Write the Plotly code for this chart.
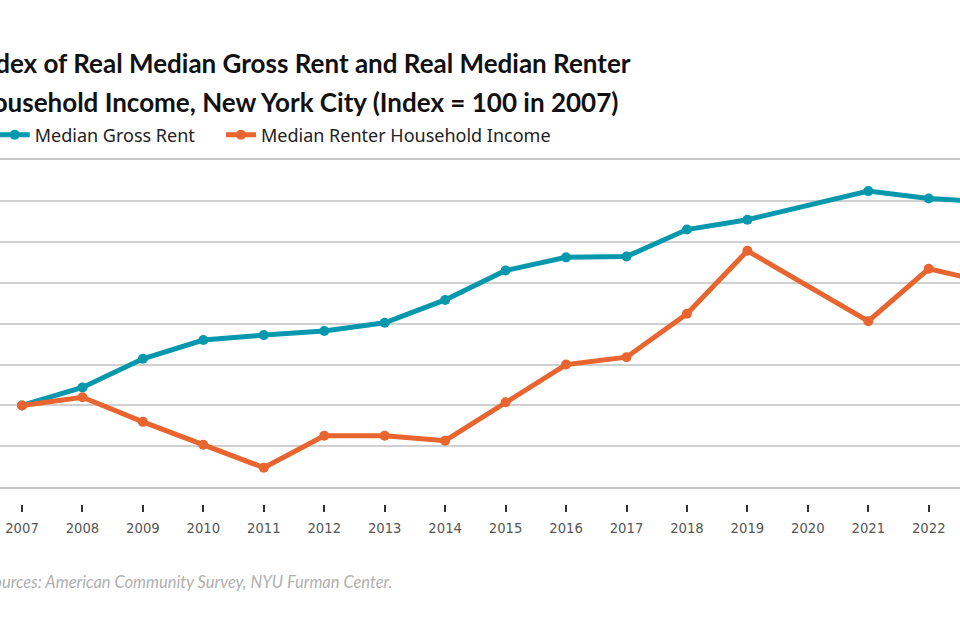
import plotly.graph_objects as go

# values (index, 2007 = 100); 2020 has no data point
years = list(range(2007, 2024))
rent = [100.0, 102.2, 105.7, 108.0, 108.6, 109.1, 110.1, 112.9, 116.5, 118.1,
        118.2, 121.5, 122.7, None, 126.2, 125.3, 124.9]
income = [100.0, 101.0, 98.0, 95.2, 92.4, 96.3, 96.3, 95.7, 100.4, 105.0,
          105.9, 111.2, 118.9, None, 110.3, 116.7, 115.0]
tick_years = list(range(2007, 2023))

TEAL = '#0898ad'
ORANGE = '#e8652f'

fig = go.Figure()
fig.add_trace(go.Scatter(x=years, y=rent, name='Median Gross Rent', mode='lines+markers',
                         connectgaps=True, line=dict(color=TEAL, width=5),
                         marker=dict(color=TEAL, size=10), legend='legend'))
fig.add_trace(go.Scatter(x=years, y=income, name='Median Renter Household Income',
                         mode='lines+markers', connectgaps=True,
                         line=dict(color=ORANGE, width=5),
                         marker=dict(color=ORANGE, size=10), legend='legend2'))

leg_font = dict(family='Noto Sans', size=18, color='#222222')

# plot area 160..540 px; y-domain bottom sits at 487 px, tick axis just below it
fig.update_layout(
    width=960, height=640,
    margin=dict(l=0, r=0, t=160, b=100, autoexpand=False),
    paper_bgcolor='white', plot_bgcolor='white',
    font=dict(family='Lato', color='#222222'),
    showlegend=True,
    legend=dict(orientation='h', x=-0.0055, y=1.0658, xanchor='left', yanchor='middle',
                font=leg_font, bgcolor='rgba(0,0,0,0)'),
    legend2=dict(orientation='h', x=0.2302, y=1.0658, xanchor='left', yanchor='middle',
                 font=leg_font, bgcolor='rgba(0,0,0,0)'),
    xaxis=dict(range=[2006.636, 2022.517], showgrid=False, zeroline=False,
               showline=True, mirror=True, linecolor='#c6c6c6', linewidth=2,
               showticklabels=False, ticks=''),
    xaxis2=dict(matches='x', overlaying='x', anchor='free', position=0.0947, side='bottom',
                tickmode='array', tickvals=tick_years, tickformat='d',
                ticks='outside', ticklen=7, tickwidth=1.5, tickcolor='#333333',
                ticklabelstandoff=5, ticklabeloverflow='allow',
                showline=False, showgrid=False, zeroline=False,
                tickfont=dict(family='DejaVu Sans', size=13.2, color='#555555')),
    yaxis=dict(domain=[0.1387, 1], range=[90, 130], dtick=5, showgrid=True,
               gridcolor='#d0d0d0', gridwidth=1.5, zeroline=False,
               showticklabels=False, ticks=''),
)
# empty trace so the lower tick axis gets drawn
fig.add_trace(go.Scatter(x=[], y=[], xaxis='x2', showlegend=False, hoverinfo='skip'))

fig.add_annotation(text='Index of Real Median Gross Rent and Real Median Renter',
                   xref='paper', yref='paper', x=-0.0298, y=1.2553, xanchor='left',
                   yanchor='middle', showarrow=False,
                   font=dict(family='Lato', size=26, color='#111111', weight='bold'))
fig.add_annotation(text='Household Income, New York City (Index = 100 in 2007)',
                   xref='paper', yref='paper', x=-0.0298, y=1.1526, xanchor='left',
                   yanchor='middle', showarrow=False,
                   font=dict(family='Lato', size=26, color='#111111', weight='bold'))
fig.add_annotation(text='<i>Sources: American Community Survey, NYU Furman Center.</i>',
                   xref='paper', yref='paper', x=-0.0182, y=-0.1105, xanchor='left',
                   yanchor='middle', showarrow=False,
                   font=dict(family='Lato', size=16.5, color='#b0b0b0'))

# drop the default body margin so the figure sits flush in the window
fig.write_html('out.html', config={'displayModeBar': False},
               post_script="document.body.style.margin='0px';")
